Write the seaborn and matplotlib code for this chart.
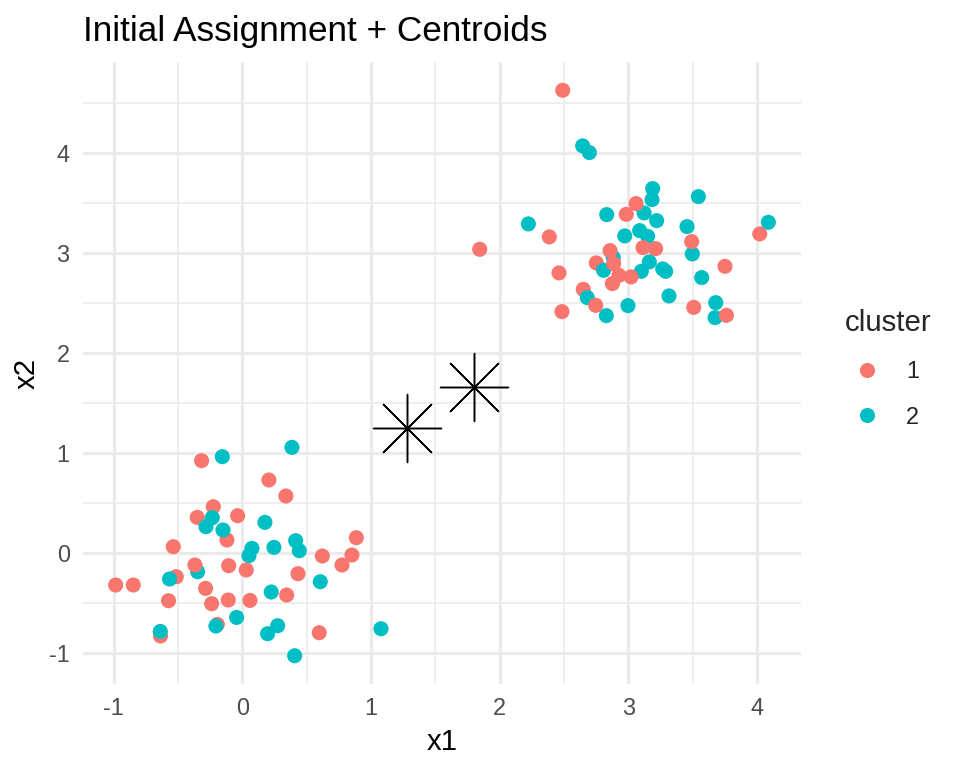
import matplotlib
matplotlib.use("Agg")
import matplotlib.pyplot as plt
import seaborn as sns
import pandas as pd
from matplotlib.ticker import MultipleLocator

# ---- data ----
x1 = [
    # lower group
    -0.225, -0.350, -0.119, -0.513, -0.194, -0.635,
    -0.155, 0.386, 0.176, -0.233, -0.282, -0.150, 0.415, 0.443, 0.246, 0.075, 0.052,
    -0.347, -0.565, 0.606, 0.225, -0.044, -0.205, 0.275, 0.197, -0.637, 0.407, 1.078,
    -0.316, 0.207, 0.339, -0.036, -0.536, 0.886, 0.622, 0.852, 0.775, -0.368, -0.106,
    0.031, 0.433, -0.984, -0.847, -0.285, 0.345, -0.573, -0.238, -0.109, 0.060, 0.598,
    # upper group
    3.122, 3.150, 2.883, 3.497, 4.088, 3.674, 3.679,
    2.650, 2.751,
    2.645, 2.697, 3.189, 3.184, 3.544, 2.832, 3.220, 2.223, 3.456, 3.088, 2.972,
    3.163, 3.101, 3.267, 3.290, 2.808, 3.570, 3.316, 2.681, 2.997, 2.829,
    2.490, 1.845, 2.386, 3.060, 2.984, 3.492, 4.021, 3.114, 3.212, 2.858,
    2.886, 2.461, 2.927, 3.021, 2.876, 3.751, 2.746, 2.484, 3.508, 3.762,
]
x2 = [
    # lower group
    0.460, 0.353, 0.127, -0.240, -0.717, -0.833,
    0.960, 1.053, 0.303, 0.350, 0.260, 0.227, 0.120, 0.020, 0.053, 0.043, -0.030,
    -0.190, -0.263, -0.290, -0.393, -0.647, -0.733, -0.730, -0.810, -0.787, -1.030, -0.760,
    0.920, 0.727, 0.567, 0.370, 0.060, 0.150, -0.033, -0.023, -0.123, -0.123, -0.130,
    -0.173, -0.210, -0.323, -0.323, -0.357, -0.423, -0.480, -0.510, -0.473, -0.477, -0.800,
    # upper group
    3.397, 3.163, 2.950, 2.987, 3.303, 2.350, 2.500,
    2.633, 2.897,
    4.067, 4.000, 3.640, 3.530, 3.560, 3.380, 3.320, 3.287, 3.260, 3.220, 3.167,
    2.907, 2.813, 2.837, 2.813, 2.823, 2.750, 2.567, 2.550, 2.470, 2.370,
    4.623, 3.033, 3.157, 3.490, 3.383, 3.110, 3.187, 3.050, 3.040, 3.020,
    2.890, 2.797, 2.773, 2.757, 2.690, 2.863, 2.473, 2.410, 2.453, 2.373,
]
cluster = (
    ["1"] * 6 + ["2"] * 22 + ["1"] * 22
    + ["2"] * 7 + ["1"] * 2 + ["2"] * 21 + ["1"] * 20
)

centroid_x1 = [1.278, 1.801]
centroid_x2 = [1.243, 1.656]

cluster_levels = ["1", "2"]
cluster_colors = ["#F8766D", "#00BFC4"]
x_ticks = [-1, 0, 1, 2, 3, 4]
y_ticks = [-1, 0, 1, 2, 3, 4]
x_tick_labels = ["-1", "0", "1", "2", "3", "4"]
y_tick_labels = ["-1", "0", "1", "2", "3", "4"]

# ---- plot ----
sns.set_theme(style="white")
plt.rcParams["font.family"] = ["Liberation Sans", "DejaVu Sans"]

fig = plt.figure(figsize=(5, 4), dpi=192)
L, R, T, B = 83, 801, 62, 684
ax = fig.add_axes([L / 960, 1 - B / 768, (R - L) / 960, (B - T) / 768])

df = pd.DataFrame({"x1": x1, "x2": x2, "cluster": cluster})
sns.scatterplot(data=df, x="x1", y="x2", hue="cluster", hue_order=cluster_levels,
                palette=cluster_colors, s=32, linewidth=0, ax=ax, zorder=3)
ax.scatter(centroid_x1, centroid_x2, marker=(8, 2, 0), s=25.5 ** 2, c="black",
           linewidths=0.55, zorder=4)

allx = x1 + centroid_x1
ally = x2 + centroid_x2
dx = (max(allx) - min(allx)) * 0.05
dy = (max(ally) - min(ally)) * 0.05
ax.set_xlim(min(allx) - dx, max(allx) + dx)
ax.set_ylim(min(ally) - dy, max(ally) + dy)

ax.set_xticks(x_ticks)
ax.set_xticklabels(x_tick_labels)
ax.set_yticks(y_ticks)
ax.set_yticklabels(y_tick_labels)
ax.xaxis.set_minor_locator(MultipleLocator(0.5))
ax.yaxis.set_minor_locator(MultipleLocator(0.5))
ax.grid(which="major", color="#EBEBEB", linewidth=1.2)
ax.grid(which="minor", color="#EBEBEB", linewidth=0.6)
ax.set_axisbelow(True)
for s in ax.spines.values():
    s.set_visible(False)
ax.tick_params(which="both", length=0)
ax.tick_params(axis="both", which="major", labelsize=8.8, labelcolor="#4D4D4D", pad=5)

ax.set_xlabel("x1", fontsize=11, color="black", labelpad=3)
ax.set_ylabel("x2", fontsize=11, color="black", labelpad=3)

fig.text(L / 960, 1 - 41 / 768, "Initial Assignment + Centroids", fontsize=13.2,
         color="black", ha="left", va="baseline")

sns.move_legend(ax, "upper left", bbox_to_anchor=(845 / 960, 1 - 309 / 768),
                bbox_transform=fig.transFigure, frameon=False, title="cluster",
                fontsize=8.8, title_fontsize=11, borderpad=0, borderaxespad=0,
                handlelength=1.85, handletextpad=0.75, labelspacing=0.97,
                alignment="left")

fig.savefig("out.png", dpi=192)
